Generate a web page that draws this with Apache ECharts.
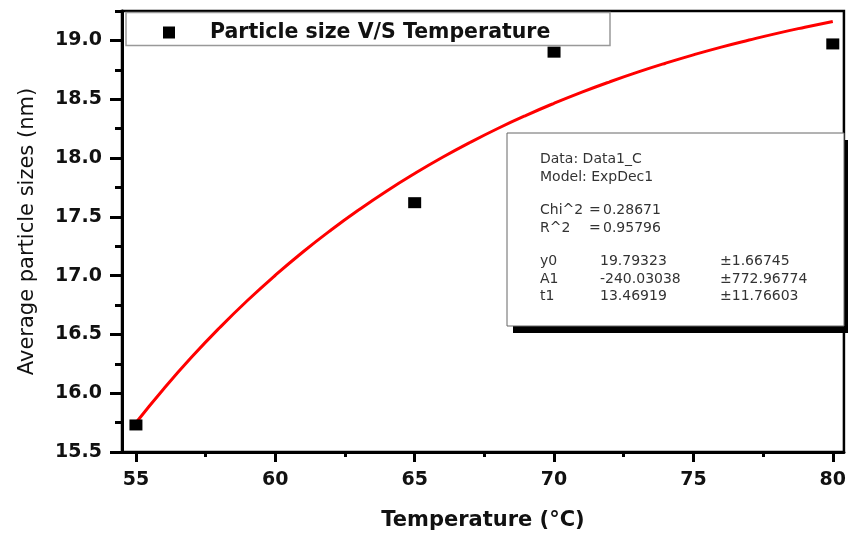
<!DOCTYPE html>
<html>
<head>
<meta charset="utf-8">
<script src="https://cdn.jsdelivr.net/npm/echarts@6/dist/echarts.min.js"></script>
<style>
html,body{margin:0;padding:0;background:#fff;}
#chart{width:849px;height:536px;}
</style>
</head>
<body>
<div id="chart"></div>
<script>
// Measured data points
const temperatures = [55, 65, 70, 80];
const particleSizes = [15.73, 17.62, 18.90, 18.97];

// Fitted ExpDec1 curve
const fitTemps = [55,56,57,58,59,60,61,62,63,64,65,66,67,68,69,70,71,72,73,74,75,76,77,78,79,80];
const fitSizes = [15.749,16.038,16.307,16.556,16.788,17.003,17.203,17.388,17.560,17.720,17.868,18.006,18.134,18.253,18.363,18.465,18.560,18.648,18.730,18.806,18.877,18.943,19.003,19.060,19.112,19.161];

// Tick labels
const xMajorTicks = [55, 60, 65, 70, 75, 80];
const xMinorTicks = [57.5, 62.5, 67.5, 72.5, 77.5];
const yMajorTicks = [15.5, 16.0, 16.5, 17.0, 17.5, 18.0, 18.5, 19.0];
const yMinorTicks = [15.75, 16.25, 16.75, 17.25, 17.75, 18.25, 18.75, 19.25];

// Fit report text
const fitReport = [
  ['Data: Data1_C', '', ''],
  ['Model: ExpDec1', '', ''],
  ['Chi^2', '=', '0.28671'],
  ['R^2', '=', '0.95796'],
  ['y0', '19.79323', '\u00b11.66745'],
  ['A1', '-240.03038', '\u00b1772.96774'],
  ['t1', '13.46919', '\u00b111.76603']
];

const seriesName = 'Particle size V/S Temperature';
const FONT = 'DejaVu Sans';

const chart = echarts.init(document.getElementById('chart'), null, {renderer: 'canvas'});

const xMin = 54.5, xMax = 80.4, yMin = 15.5, yMax = 19.25;

// build report graphics
const reportY = [160, 178, 211, 229, 262, 280, 297];
const reportFont = '14px "' + FONT + '"';
const reportGraphics = [];
fitReport.forEach((row, i) => {
  const xs = row[1] === '=' ? [540, 589, 603] : [540, 600, 720];
  row.forEach((t, j) => {
    if (t) reportGraphics.push({type: 'text', left: xs[j], top: reportY[i] - 8, z: 22,
      style: {text: t, fill: '#333', font: reportFont}});
  });
});

const option = {
  animation: false,
  backgroundColor: '#fff',
  grid: {left: 122, right: 4, top: 11, bottom: 82, show: true, borderColor: '#000', borderWidth: 2.5, backgroundColor: 'transparent'},
  legend: {
    data: [seriesName],
    left: 158, top: 17,
    icon: 'rect', itemWidth: 12, itemHeight: 12,
    z: 5,
    itemStyle: {color: '#000', opacity: 1},
    textStyle: {fontFamily: FONT, fontWeight: 'bold', fontSize: 20.5, color: '#111', padding: [0, 0, 0, 30]}
  },
  xAxis: [
    {
      type: 'value', min: xMin, max: xMax, position: 'bottom',
      name: 'Temperature (\u00b0C)', nameLocation: 'middle', nameGap: 58,
      nameTextStyle: {fontFamily: FONT, fontWeight: 'bold', fontSize: 21, color: '#111'},
      axisLine: {show: true, onZero: false, lineStyle: {color: '#000', width: 3}},
      axisTick: {show: true, customValues: xMajorTicks, length: 10, lineStyle: {color: '#000', width: 3}},
      axisLabel: {show: true, customValues: xMajorTicks, margin: 19, fontFamily: FONT, fontWeight: 'bold', fontSize: 19, color: '#111'},
      splitLine: {show: false}
    },
    {
      type: 'value', min: xMin, max: xMax, position: 'bottom',
      axisLine: {show: false, onZero: false},
      axisTick: {show: true, customValues: xMinorTicks, length: 5, lineStyle: {color: '#000', width: 3}},
      axisLabel: {show: false},
      splitLine: {show: false}
    }
  ],
  yAxis: [
    {
      type: 'value', min: yMin, max: yMax, position: 'left',
      name: 'Average particle sizes (nm)', nameLocation: 'middle', nameGap: 84, nameRotate: 90,
      nameTextStyle: {fontFamily: FONT, fontSize: 21, color: '#111'},
      axisLine: {show: true, onZero: false, lineStyle: {color: '#000', width: 3}},
      axisTick: {show: true, customValues: yMajorTicks, length: 12, lineStyle: {color: '#000', width: 3}},
      axisLabel: {show: true, customValues: yMajorTicks, margin: 20, fontFamily: FONT, fontWeight: 'bold', fontSize: 19, color: '#111',
        formatter: v => Number(v).toFixed(1)},
      splitLine: {show: false}
    },
    {
      type: 'value', min: yMin, max: yMax, position: 'left',
      axisLine: {show: false, onZero: false},
      axisTick: {show: true, customValues: yMinorTicks, length: 7, lineStyle: {color: '#000', width: 3}},
      axisLabel: {show: false},
      splitLine: {show: false}
    }
  ],
  graphic: [
    {type: 'rect', shape: {x: 126, y: 12.5, width: 484, height: 33}, z: 1,
      style: {fill: '#fff', stroke: '#999', lineWidth: 1.5}},
    {type: 'rect', shape: {x: 513, y: 140, width: 335, height: 193}, z: 20,
      style: {fill: '#000'}},
    {type: 'rect', shape: {x: 507, y: 133, width: 337, height: 193}, z: 21,
      style: {fill: '#fff', stroke: '#666', lineWidth: 1}}
  ].concat(reportGraphics),
  series: [
    {
      name: 'ExpDec1 fit', type: 'line', xAxisIndex: 0, yAxisIndex: 0,
      data: fitTemps.map((t, i) => [t, fitSizes[i]]),
      showSymbol: false, smooth: true, z: 2,
      lineStyle: {color: '#f00', width: 3}
    },
    {
      name: seriesName, type: 'scatter', xAxisIndex: 0, yAxisIndex: 0,
      data: temperatures.map((t, i) => [t, particleSizes[i]]),
      symbol: 'rect', symbolSize: [13, 11], z: 3,
      itemStyle: {color: '#000', opacity: 1}
    }
  ]
};
chart.setOption(option);
</script>
</body>
</html>
